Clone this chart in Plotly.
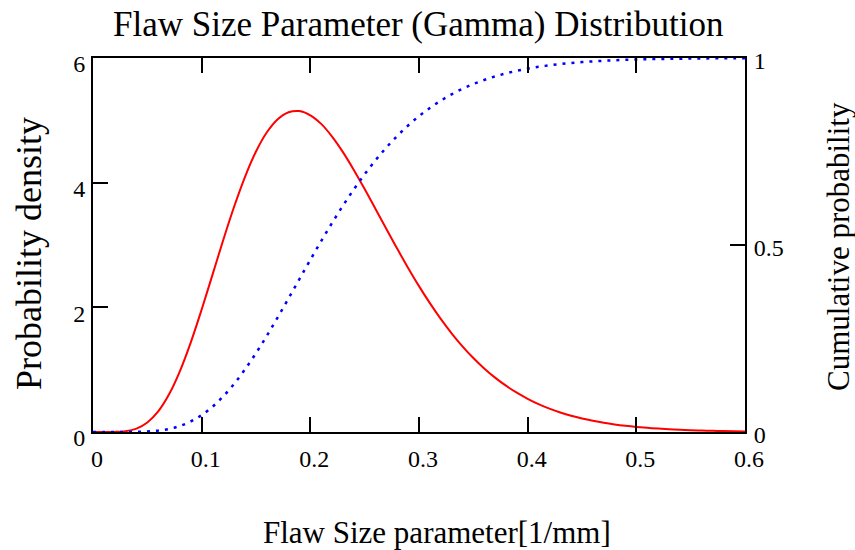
import plotly.graph_objects as go

# Flaw size parameter grid [1/mm]
flaw_size = [0.00, 0.01, 0.02, 0.03, 0.04, 0.05, 0.06, 0.07, 0.08, 0.09,
             0.10, 0.11, 0.12, 0.13, 0.14, 0.15, 0.16, 0.17, 0.18, 0.19,
             0.20, 0.21, 0.22, 0.23, 0.24, 0.25, 0.26, 0.27, 0.28, 0.29,
             0.30, 0.31, 0.32, 0.33, 0.34, 0.35, 0.36, 0.37, 0.38, 0.39,
             0.40, 0.41, 0.42, 0.43, 0.44, 0.45, 0.46, 0.47, 0.48, 0.49,
             0.50, 0.51, 0.52, 0.53, 0.54, 0.55, 0.56, 0.57, 0.58, 0.59,
             0.60]

# Probability density (left axis)
pdf_values = [0.0, 0.0, 0.0016, 0.0135, 0.055, 0.153, 0.331, 0.605, 0.978, 1.439,
              1.965, 2.525, 3.088, 3.621, 4.098, 4.499, 4.808, 5.019, 5.130, 5.148,
              5.081, 4.943, 4.739, 4.490, 4.205, 3.898, 3.578, 3.257, 2.938, 2.632,
              2.340, 2.067, 1.815, 1.584, 1.374, 1.187, 1.020, 0.872, 0.743, 0.630,
              0.533, 0.448, 0.375, 0.314, 0.261, 0.217, 0.180, 0.148, 0.122, 0.100,
              0.082, 0.067, 0.055, 0.045, 0.036, 0.029, 0.024, 0.019, 0.015, 0.012,
              0.010]

# Cumulative probability (right axis)
cdf_values = [0.0, 0.0, 0.0, 0.0001, 0.0004, 0.0013, 0.0037, 0.0082, 0.0161, 0.0282,
              0.0451, 0.0676, 0.0957, 0.1292, 0.1679, 0.2109, 0.2575, 0.3068, 0.3576, 0.4091,
              0.4603, 0.5105, 0.5590, 0.6051, 0.6487, 0.6892, 0.7266, 0.7608, 0.7917, 0.8196,
              0.8445, 0.8664, 0.8858, 0.9028, 0.9176, 0.9303, 0.9413, 0.9508, 0.9588, 0.9657,
              0.9715, 0.9764, 0.9805, 0.9839, 0.9868, 0.9891, 0.9910, 0.9926, 0.9939, 0.9950,
              0.9959, 0.9967, 0.9973, 0.9978, 0.9982, 0.9986, 0.9988, 0.9991, 0.9992, 0.9994,
              0.9995]

x_ticks = [0, 0.1, 0.2, 0.3, 0.4, 0.5, 0.6]
x_tick_text = ["0", "0.1", "0.2", "0.3", "0.4", "0.5", "0.6"]
y_ticks = [0, 2, 4, 6]
y_tick_text = ["0", "2", "4", "6"]
y2_ticks = [0, 0.5, 1]
y2_tick_text = ["0", "0.5", "1"]

title_text = "Flaw Size Parameter (Gamma) Distribution"
x_title = "Flaw Size parameter[1/mm]"
y_title = "Probability density"
y2_title = "Cumulative probability"

FONT = "Liberation Serif, Times New Roman, serif"

fig = go.Figure()
fig.add_trace(go.Scatter(x=flaw_size, y=pdf_values, mode="lines",
                         line=dict(color="#FF0000", width=2, shape="spline"),
                         yaxis="y", showlegend=False, cliponaxis=True))
fig.add_trace(go.Scatter(x=flaw_size, y=cdf_values, mode="lines",
                         line=dict(color="#0000FF", width=2.5, dash="3px,6px", shape="spline"),
                         yaxis="y2", showlegend=False, cliponaxis=True))

L, R, T, B = 93, 110, 58, 118
W, H = 855, 550
pw, ph = W - L - R, H - T - B

def px(xp):
    return (xp - L) / pw

def py(yp):
    return (H - B - yp) / ph

axis_common = dict(showline=True, linecolor="black", linewidth=2,
                   ticks="inside", ticklen=15, tickwidth=2, tickcolor="black",
                   showgrid=False, zeroline=False,
                   tickfont=dict(family=FONT, size=24, color="black"))

fig.update_layout(
    width=W, height=H,
    margin=dict(l=L, r=R, t=T, b=B, pad=0),
    paper_bgcolor="white", plot_bgcolor="white",
    font=dict(family=FONT, color="black"),
    xaxis=dict(range=[0, 0.6], tickvals=x_ticks, ticktext=x_tick_text,
               mirror="ticks", ticklabelstandoff=4, ticklabelshift=4,
               **axis_common),
    yaxis=dict(range=[0, 6], tickvals=y_ticks, ticktext=y_tick_text,
               ticklabelshift=6, ticklabelstandoff=1, **axis_common),
    yaxis2=dict(range=[0, 1], tickvals=y2_ticks, ticktext=y2_tick_text,
                overlaying="y", side="right", ticklabelshift=3,
                ticklabelstandoff=2, **axis_common),
    annotations=[
        dict(text=title_text, x=px(418), y=py(24), xref="paper", yref="paper",
             showarrow=False, xanchor="center", yanchor="middle",
             font=dict(family=FONT, size=35, color="black")),
        dict(text=x_title, x=px(437), y=py(532), xref="paper", yref="paper",
             showarrow=False, xanchor="center", yanchor="middle",
             font=dict(family=FONT, size=31, color="black")),
        dict(text=y_title, x=px(29), y=py(254), xref="paper", yref="paper",
             showarrow=False, xanchor="center", yanchor="middle", textangle=-90,
             font=dict(family=FONT, size=36, color="black")),
        dict(text=y2_title, x=px(838), y=py(247), xref="paper", yref="paper",
             showarrow=False, xanchor="center", yanchor="middle", textangle=-90,
             font=dict(family=FONT, size=31, color="black")),
    ],
)

fig.write_html("out.html", config={"displayModeBar": False},
               post_script="document.body.style.margin='0';document.body.style.padding='0';document.body.style.overflow='hidden';")
